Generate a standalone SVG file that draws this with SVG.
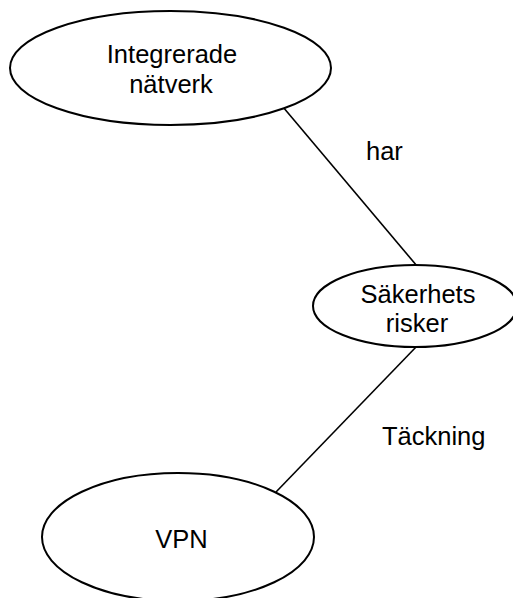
<svg xmlns="http://www.w3.org/2000/svg" width="513" height="598" viewBox="0 0 513 598">
<style>
.node ellipse{fill:#fff;stroke:#000;stroke-width:2}
.lbl{font-family:"Liberation Sans",Arial,sans-serif;font-size:25.5px;fill:#000}
.c{text-anchor:middle}
#connectors line{stroke:#000;stroke-width:1.6}
</style>
<rect width="513" height="598" fill="#fff"/>
<g id="connectors">
<line x1="283" y1="107" x2="417" y2="266"/>
<line x1="417" y1="346" x2="276" y2="492"/>
<text class="lbl" x="366" y="160">har</text>
<text class="lbl" x="382" y="445">Täckning</text>
</g>
<g id="n1" class="node">
<ellipse cx="170.5" cy="68" rx="160.5" ry="57"/>
<text class="lbl c" x="172" y="63">Integrerade</text>
<text class="lbl c" x="171" y="93">nätverk</text>
</g>
<g id="n2" class="node">
<ellipse cx="415" cy="306" rx="102" ry="41"/>
<text class="lbl c" x="418" y="303">Säkerhets</text>
<text class="lbl c" x="417" y="332">risker</text>
</g>
<g id="n3" class="node">
<ellipse cx="178" cy="537" rx="136" ry="64"/>
<text class="lbl c" x="181.5" y="548">VPN</text>
</g>
</svg>
